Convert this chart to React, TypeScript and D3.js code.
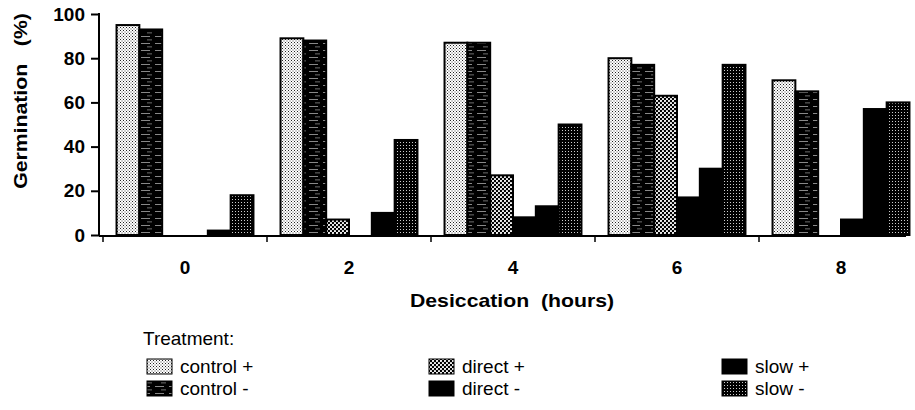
import React, { useEffect, useRef } from 'react';
import * as d3 from 'd3';

// hours of desiccation (x categories)
const hours = ['0', '2', '4', '6', '8'];
const yTicks = [0, 20, 40, 60, 80, 100];

// germination (%) per treatment
const controlPlus = [95, 89, 87, 80, 70];
const controlMinus = [93, 88, 87, 77, 65];
const directPlus = [0, 7, 27, 63, 0];
const directMinus = [0, 0, 8, 17, 7];
const slowPlus = [2, 10, 13, 30, 57];
const slowMinus = [18, 43, 50, 77, 60];

const treatments = ['control +', 'control -', 'direct +', 'direct -', 'slow +', 'slow -'];
const seriesValues = [controlPlus, controlMinus, directPlus, directMinus, slowPlus, slowMinus];
const fills = ['url(#p-cplus)', 'url(#p-cminus)', 'url(#p-dplus)', '#000', '#000', 'url(#p-sminus)'];

const FONT = '"Liberation Sans", Arial, Helvetica, sans-serif';

const App = () => {
  const svgRef = useRef<SVGSVGElement>(null);

  useEffect(() => {
    const svg = d3.select(svgRef.current);
    svg.selectAll('*').remove();

    // patterns for the bar fills
    const defs = svg.append('defs');
    const p1 = defs.append('pattern').attr('id', 'p-cplus').attr('width', 3).attr('height', 3).attr('patternUnits', 'userSpaceOnUse');
    p1.append('rect').attr('width', 3).attr('height', 3).attr('fill', '#fff');
    p1.append('rect').attr('x', 0).attr('y', 0).attr('width', 1).attr('height', 1).attr('fill', '#222');
    p1.append('rect').attr('x', 1.5).attr('y', 1.5).attr('width', 1).attr('height', 1).attr('fill', '#444');

    const p2 = defs.append('pattern').attr('id', 'p-cminus').attr('width', 14).attr('height', 7).attr('patternUnits', 'userSpaceOnUse');
    p2.append('rect').attr('width', 14).attr('height', 7).attr('fill', '#000');
    p2.append('rect').attr('x', 1).attr('y', 1).attr('width', 9).attr('height', 0.8).attr('fill', '#aaa');
    p2.append('rect').attr('x', 7).attr('y', 4.5).attr('width', 5).attr('height', 0.8).attr('fill', '#888');

    const p3 = defs.append('pattern').attr('id', 'p-dplus').attr('width', 4).attr('height', 4).attr('patternUnits', 'userSpaceOnUse');
    p3.append('rect').attr('width', 4).attr('height', 4).attr('fill', '#000');
    p3.append('circle').attr('cx', 1).attr('cy', 1).attr('r', 1.1).attr('fill', '#fff');
    p3.append('circle').attr('cx', 3).attr('cy', 3).attr('r', 1.1).attr('fill', '#fff');

    const p4 = defs.append('pattern').attr('id', 'p-sminus').attr('width', 3).attr('height', 3).attr('patternUnits', 'userSpaceOnUse');
    p4.append('rect').attr('width', 3).attr('height', 3).attr('fill', '#000');
    p4.append('rect').attr('x', 1).attr('y', 1).attr('width', 1).attr('height', 1).attr('fill', '#ccc');

    const x = d3.scaleBand().domain(hours).range([103, 923]).paddingInner(0.165).paddingOuter(0.0825);
    const xSub = d3.scaleBand().domain(treatments).range([0, x.bandwidth()]);
    const y = d3.scaleLinear().domain([0, 100]).range([235, 14]);

    // bars
    treatments.forEach((t, i) => {
      svg.append('g')
        .selectAll('rect')
        .data(seriesValues[i].map((v, j) => ({ h: hours[j], v })).filter(d => d.v > 0))
        .enter()
        .append('rect')
        .attr('x', d => (x(d.h) as number) + (xSub(t) as number))
        .attr('y', d => y(d.v))
        .attr('width', xSub.bandwidth())
        .attr('height', d => y(0) - y(d.v))
        .attr('fill', fills[i])
        .attr('stroke', '#000')
        .attr('stroke-width', 2);
    });

    // y axis
    const yAxis = svg.append('g').attr('transform', 'translate(99,0)')
      .call(d3.axisLeft(y).tickValues(yTicks).tickSize(8).tickFormat(d3.format('d')));
    yAxis.select('.domain').attr('d', `M0,${y(100) - 1}V${y(0) + 1}`).attr('stroke-width', 2);
    yAxis.selectAll('.tick line').attr('stroke-width', 2);
    yAxis.selectAll('.tick text')
      .attr('x', -14)
      .attr('font-family', FONT)
      .attr('font-size', 19)
      .attr('font-weight', 'bold')
      .attr('fill', '#000');

    // x axis
    svg.append('line').attr('x1', 99).attr('x2', 906).attr('y1', y(0) + 1).attr('y2', y(0) + 1)
      .attr('stroke', '#000').attr('stroke-width', 2);
    svg.append('g').selectAll('line')
      .data(hours)
      .enter()
      .append('line')
      .attr('x1', d => (x(d) as number) - x.step() * x.paddingOuter())
      .attr('x2', d => (x(d) as number) - x.step() * x.paddingOuter())
      .attr('y1', y(0) + 1)
      .attr('y2', y(0) + 7)
      .attr('stroke', '#000')
      .attr('stroke-width', 1.5);
    svg.append('g').selectAll('text')
      .data(hours)
      .enter()
      .append('text')
      .attr('x', d => (x(d) as number) + x.bandwidth() / 2)
      .attr('y', 274)
      .attr('text-anchor', 'middle')
      .attr('font-family', FONT)
      .attr('font-size', 19)
      .attr('font-weight', 'bold')
      .text(d => d);

    // axis titles
    svg.append('text')
      .attr('transform', 'translate(512,307) scale(1.18,1)')
      .attr('text-anchor', 'middle')
      .attr('font-family', FONT)
      .attr('font-size', 18)
      .attr('font-weight', 'bold')
      .attr('xml:space', 'preserve')
      .text('Desiccation  (hours)');
    svg.append('text')
      .attr('transform', 'translate(27,101) rotate(-90) scale(1.18,1)')
      .attr('text-anchor', 'middle')
      .attr('font-family', FONT)
      .attr('font-size', 18)
      .attr('font-weight', 'bold')
      .attr('xml:space', 'preserve')
      .text('Germination   (%)');

    // legend
    const legend = svg.append('g').attr('font-family', FONT).attr('font-size', 19);
    legend.append('text').attr('x', 143).attr('y', 345).text('Treatment:');
    const colX = [147, 429, 722];
    const rowY = [359, 381];
    treatments.forEach((t, i) => {
      const cx = colX[Math.floor(i / 2)];
      const ry = rowY[i % 2];
      legend.append('rect')
        .attr('x', cx).attr('y', ry).attr('width', 25).attr('height', 15)
        .attr('fill', fills[i]).attr('stroke', '#000').attr('stroke-width', 1);
      legend.append('text').attr('x', cx + 33).attr('y', ry + 14).text(t);
    });
  }, []);

  return (
    <svg ref={svgRef} width={915} height={410} style={{ position: 'absolute', left: 0, top: 0, background: '#fff' }} />
  );
};

export default App;
